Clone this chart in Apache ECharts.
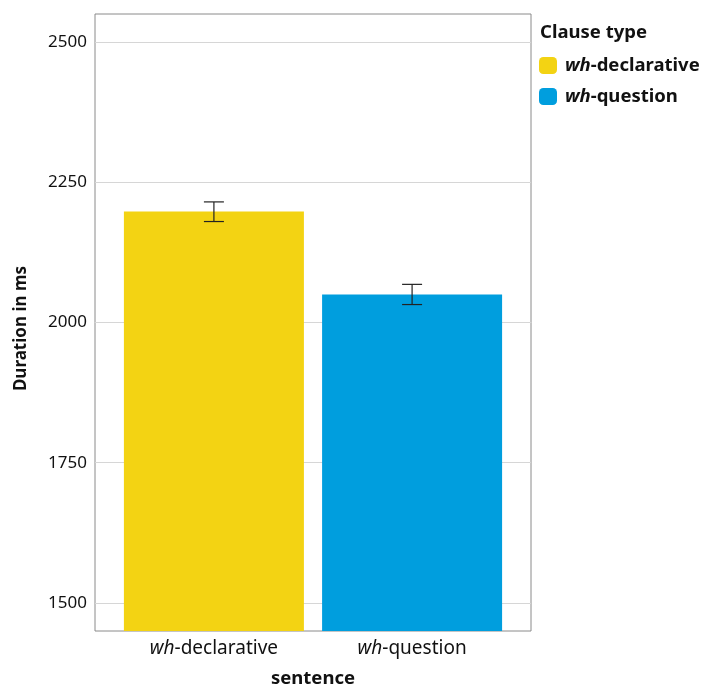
<!DOCTYPE html>
<html>
<head>
<meta charset="utf-8">
<script src="https://cdn.jsdelivr.net/npm/echarts@6/dist/echarts.min.js"></script>
<style>
  html, body { margin: 0; padding: 0; background: #fff; }
  #chart { width: 703px; height: 685px; }
</style>
</head>
<body>
<div id="chart"></div>
<script>
// Mean sentence duration (ms) by clause type, with error bars
const categories = ['wh-declarative', 'wh-question'];
const means = [2198, 2050];
const errLow = [2180, 2032];
const errHigh = [2215, 2068];
const yTicks = [1500, 1750, 2000, 2250, 2500];
const colors = ['#F3D313', '#009EDE'];

const FONT = 'Noto Sans';

function catLabel(name) {
  const rest = name.slice(2);
  return '{i|wh}{n|' + rest + '}';
}

const chart = echarts.init(document.getElementById('chart'), null, { renderer: 'canvas' });

// bars sit at x = 0, 1 on a numeric position axis
const barSeries = categories.map((c, idx) => ({
  name: c,
  type: 'bar',
  barWidth: 180,
  barGap: '-100%',
  z: 2,
  itemStyle: { color: colors[idx] },
  data: [[idx, means[idx]]]
}));

const option = {
  animation: false,
  textStyle: { fontFamily: FONT },
  title: {
    text: 'Clause type',
    left: 535,
    top: 18,
    textStyle: { fontFamily: FONT, fontWeight: 'bold', fontSize: 18.5, color: '#111' }
  },
  legend: {
    orient: 'vertical',
    left: 534,
    top: 51,
    itemWidth: 18,
    itemHeight: 17,
    itemGap: 12,
    icon: 'roundRect',
    data: categories,
    formatter: catLabel,
    textStyle: {
      fontFamily: FONT,
      fontSize: 18.5,
      fontWeight: 'bold',
      color: '#111',
      rich: {
        i: { fontFamily: FONT, fontSize: 18.5, fontWeight: 'bold', fontStyle: 'italic', color: '#111', padding: [0, 0, 0, 3] },
        n: { fontFamily: FONT, fontSize: 18.5, fontWeight: 'bold', color: '#111' }
      }
    }
  },
  grid: {
    left: 95,
    right: 172,
    top: 14,
    bottom: 54,
    outerBoundsMode: 'none',
    containLabel: false,
    show: true,
    borderColor: '#8a8a8a',
    borderWidth: 1,
    backgroundColor: 'transparent'
  },
  xAxis: {
    type: 'value',
    min: -0.6,
    max: 1.6,
    interval: 0.2,
    axisLine: { show: false },
    axisTick: { show: false },
    splitLine: { show: false },
    axisLabel: {
      margin: 8,
      showMinLabel: true,
      showMaxLabel: true,
      formatter: function (v) {
        const k = Math.round(v);
        if (Math.abs(v - k) > 1e-6 || k < 0 || k >= categories.length) return '';
        return catLabel(categories[k]);
      },
      fontFamily: FONT,
      fontSize: 19,
      color: '#111',
      rich: {
        i: { fontFamily: FONT, fontSize: 19, fontStyle: 'italic', color: '#111' },
        n: { fontFamily: FONT, fontSize: 19, color: '#111' }
      }
    },
    name: 'sentence',
    nameLocation: 'middle',
    nameGap: 38,
    nameTextStyle: { fontFamily: FONT, fontWeight: 'bold', fontSize: 18.5, color: '#111' }
  },
  yAxis: {
    type: 'value',
    min: 1450,
    max: 2550,
    interval: 50,
    axisLine: { show: false },
    axisTick: { show: false },
    splitLine: { show: false },
    axisLabel: {
      margin: 8,
      fontFamily: FONT,
      fontSize: 17,
      color: '#111',
      formatter: v => (yTicks.indexOf(v) >= 0 ? String(v) : '')
    },
    name: 'Duration in ms',
    nameLocation: 'middle',
    nameGap: 65,
    nameTextStyle: { fontFamily: FONT, fontWeight: 'bold', fontSize: 17, color: '#111', padding: [0, 12, 0, 0] }
  },
  series: [
    {
      // horizontal grid lines at the labelled ticks, kept behind the bars
      type: 'line',
      data: [],
      silent: true,
      markLine: {
        silent: true,
        z: 1,
        symbol: ['none', 'none'],
        label: { show: false },
        lineStyle: { color: '#d6d6d6', width: 1, type: 'solid' },
        data: yTicks.map(v => ({ yAxis: v }))
      }
    },
    ...barSeries,
    {
      type: 'custom',
      z: 3,
      silent: true,
      data: categories.map((_, i) => [i, errLow[i], errHigh[i]]),
      renderItem: function (params, api) {
        const lo = api.coord([api.value(0), api.value(1)]);
        const hi = api.coord([api.value(0), api.value(2)]);
        const half = 10;
        const style = { stroke: '#222', lineWidth: 1.2 };
        return {
          type: 'group',
          children: [
            { type: 'line', shape: { x1: hi[0], y1: hi[1], x2: lo[0], y2: lo[1] }, style },
            { type: 'line', shape: { x1: hi[0] - half, y1: hi[1], x2: hi[0] + half, y2: hi[1] }, style },
            { type: 'line', shape: { x1: lo[0] - half, y1: lo[1], x2: lo[0] + half, y2: lo[1] }, style }
          ]
        };
      }
    }
  ]
};

chart.setOption(option);
</script>
</body>
</html>
